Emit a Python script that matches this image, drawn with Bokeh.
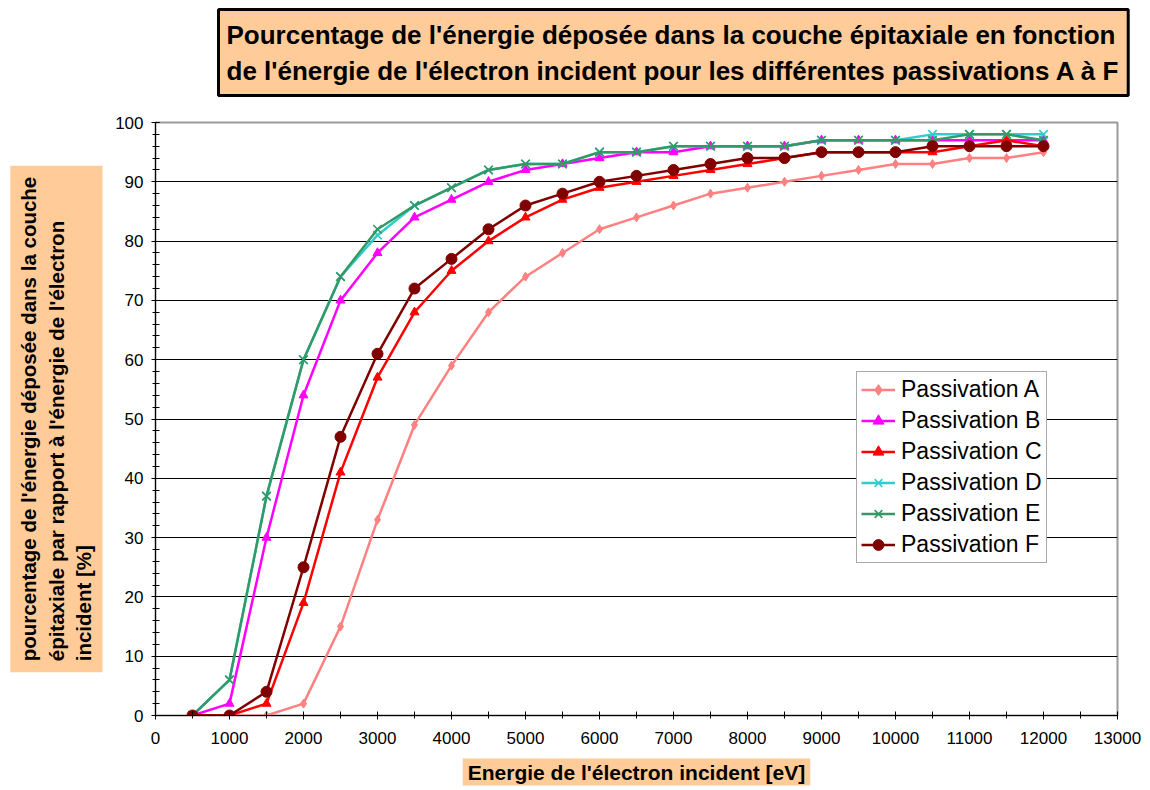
from bokeh.plotting import figure
from bokeh.models import (FixedTicker, Legend, LegendItem, Range1d, ColumnDataSource, Title)
from bokeh.embed import file_html
from bokeh.resources import INLINE

energy = [500, 1000, 1500, 2000, 2500, 3000, 3500, 4000, 4500, 5000, 5500, 6000,
          6500, 7000, 7500, 8000, 8500, 9000, 9500, 10000, 10500, 11000, 11500, 12000]
pass_a = [0, 0, 0, 2, 15, 33, 49, 59, 68, 74, 78, 82, 84, 86, 88, 89, 90, 91, 92, 93, 93, 94, 94, 95]
pass_b = [0, 2, 30, 54, 70, 78, 84, 87, 90, 92, 93, 94, 95, 95, 96, 96, 96, 97, 97, 97, 97, 97, 97, 97]
pass_c = [0, 0, 2, 19, 41, 57, 68, 75, 80, 84, 87, 89, 90, 91, 92, 93, 94, 95, 95, 95, 95, 96, 97, 96]
pass_d = [0, 6, 37, 60, 74, 81, 86, 89, 92, 93, 93, 95, 95, 96, 96, 96, 96, 97, 97, 97, 98, 98, 98, 98]
pass_e = [0, 6, 37, 60, 74, 82, 86, 89, 92, 93, 93, 95, 95, 96, 96, 96, 96, 97, 97, 97, 97, 98, 98, 97]
pass_f = [0, 0, 4, 25, 47, 61, 72, 77, 82, 86, 88, 90, 91, 92, 93, 94, 94, 95, 95, 95, 96, 96, 96, 96]

names = ["Passivation A", "Passivation B", "Passivation C",
         "Passivation D", "Passivation E", "Passivation F"]
x_ticks = [0, 1000, 2000, 3000, 4000, 5000, 6000, 7000, 8000, 9000, 10000, 11000, 12000, 13000]
y_ticks = [0, 10, 20, 30, 40, 50, 60, 70, 80, 90, 100]

title_text = ("Pourcentage de l'énergie déposée dans la couche épitaxiale en fonction\n"
              "de l'énergie de l'électron incident pour les différentes passivations A à F")
ylabel_text = ("pourcentage de l'énergie déposée dans la couche\n"
               "épitaxiale par rapport à l'énergie de l'électron\n"
               "incident [%]")
xlabel_text = "Energie de l'électron incident [eV]"

FONT = "Liberation Sans"
PEACH = "#FFCC99"

p = figure(frame_width=962, frame_height=593,
           min_border_left=155, min_border_right=33, min_border_top=122, min_border_bottom=75,
           x_range=Range1d(0, 13000), y_range=Range1d(0, 100),
           output_backend="svg", toolbar_location=None)
p.background_fill_color = "white"
p.border_fill_color = "white"
p.outline_line_color = "#9A9A9A"
p.outline_line_width = 2

p.xgrid.visible = False
p.ygrid.grid_line_color = "black"
p.ygrid.grid_line_width = 1

p.xaxis.ticker = FixedTicker(ticks=x_ticks, minor_ticks=[v + 500 for v in x_ticks[:-1]])
p.yaxis.ticker = FixedTicker(ticks=y_ticks, minor_ticks=list(range(0, 101, 2)))
for ax in (p.xaxis[0], p.yaxis[0]):
    ax.axis_line_color = "black"
    ax.axis_line_width = 1
    ax.major_tick_line_color = "black"
    ax.minor_tick_line_color = "black"
    ax.major_tick_in = 4
    ax.major_tick_out = 4
    ax.minor_tick_in = 4
    ax.minor_tick_out = 3
    ax.major_label_text_font = FONT
    ax.major_label_text_font_size = "17px"
    ax.major_label_text_color = "black"
p.xaxis.major_label_standoff = 12
p.yaxis.major_label_standoff = 8

styles = [
    (pass_a, "#FF8080", "diamond", 9),
    (pass_b, "#FF00FF", "triangle", 9),
    (pass_c, "#FF0000", "triangle", 9),
    (pass_d, "#33CCCC", "x", 12),
    (pass_e, "#339966", "x", 12),
    (pass_f, "#800000", "circle", 11),
]
items = []
for (vals, col, mk, sz), nm in zip(styles, names):
    src = ColumnDataSource(dict(x=energy, y=vals))
    ln = p.line("x", "y", source=src, line_color=col, line_width=2.5)
    sc = p.scatter("x", "y", source=src, marker=mk, size=sz, fill_color=col,
                   line_color=col, line_width=1.6 if mk == "x" else 1)
    items.append(LegendItem(label=nm, renderers=[ln, sc]))

legend = Legend(items=items, location=(701, 152))
legend.label_text_font = FONT
legend.label_text_font_size = "23px"
legend.label_text_color = "black"
legend.glyph_width = 34
legend.glyph_height = 27
legend.label_height = 27
legend.label_standoff = 6
legend.spacing = 4
legend.padding = 4
legend.margin = 0
legend.border_line_color = "#555555"
legend.border_line_width = 1
legend.background_fill_color = "white"
legend.background_fill_alpha = 1
p.add_layout(legend, "center")

# spacer between frame and the main title
p.add_layout(Title(text=" ", text_font_size="1px", standoff=22), "above")

# Main title in a peach box
p.title.text = title_text
p.title.align = "left"
p.title.offset = 63
p.title.standoff = 4
p.title.text_font = FONT
p.title.text_font_size = "26px"
p.title.text_font_style = "bold"
p.title.text_color = "black"
p.title.text_line_height = 1.2
p.title.background_fill_color = PEACH
p.title.border_line_color = "black"
p.title.border_line_width = 3
p.title.padding = (8, 10)

# spacer between y axis and its label box
p.add_layout(Title(text=" ", text_font_size="1px", standoff=7), "left")
# Y label box
p.add_layout(Title(text=ylabel_text, align="center", standoff=0,
                   text_font=FONT, text_font_size="20.5px", text_font_style="bold",
                   text_color="black", text_line_height=1.2,
                   background_fill_color=PEACH, padding=(11, 7)), "left")

# spacer between x axis and its label box
p.add_layout(Title(text=" ", text_font_size="1px", standoff=6), "below")
# X label box
p.add_layout(Title(text=xlabel_text, align="center", standoff=2,
                   text_font=FONT, text_font_size="21px", text_font_style="bold",
                   text_color="black",
                   background_fill_color=PEACH, padding=(5, 2)), "below")

open("out.html", "w").write(file_html(p, INLINE))
